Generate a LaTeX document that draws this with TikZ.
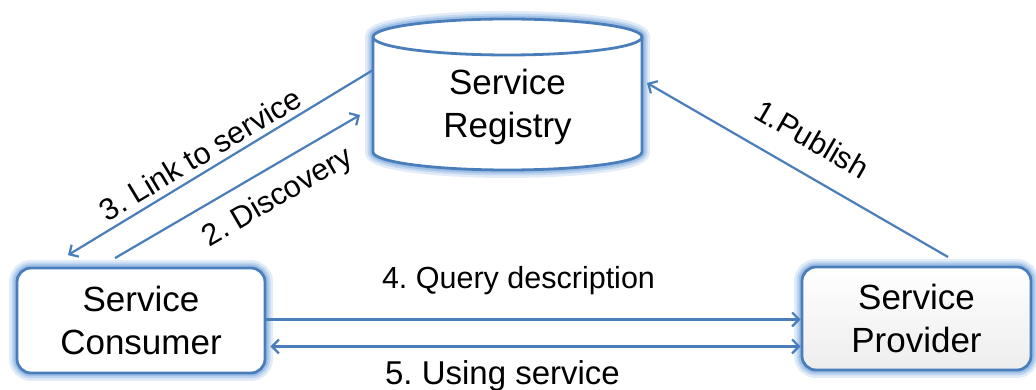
\documentclass[tikz,border=0pt]{standalone}
\usepackage{fontspec}
\setmainfont{Liberation Sans}
\frenchspacing
\usetikzlibrary{arrows.meta,calc}
\definecolor{mainblue}{HTML}{4A7EBB}
\definecolor{glowA}{HTML}{E2ECF8}
\definecolor{glowB}{HTML}{C3D8F0}
\definecolor{glowC}{HTML}{A0C0E6}
\newcommand\mynodefont{\fontsize{35}{43}\selectfont}
\newcommand\mylabelfont{\fontsize{30.5}{36}\selectfont}
\tikzset{
  glowing/.style={preaction={draw=glowA,line width=16pt},
                  preaction={draw=glowB,line width=11pt},
                  preaction={draw=glowC,line width=7pt}},
  boxnode/.style={glowing, draw=mainblue, line width=2.8pt, fill=white,
                  rounded corners=14pt, align=center, inner sep=0pt,
                  font=\mynodefont},
  conn/.style={draw=mainblue, line width=2.2pt,
               -{Straight Barb[length=7pt,width=14pt]}},
  lbl/.style={font=\mylabelfont, inner sep=0pt}
}
\begin{document}
\begin{tikzpicture}[x=1pt,y=1pt]
\useasboundingbox (0,0) rectangle (1036,390);
% cylinder (Service Registry)
\path[glowing, fill=white, draw=mainblue, line width=2.8pt]
  (373,353) -- (373,238)
  arc[start angle=180,end angle=360,x radius=134.5pt,y radius=18pt]
  -- (642,353)
  arc[start angle=0,end angle=180,x radius=134.5pt,y radius=18pt] -- cycle;
\draw[mainblue, line width=2.8pt] (373,353)
  arc[start angle=180,end angle=360,x radius=134.5pt,y radius=18pt];
\node[inner sep=0pt, outer sep=0pt, minimum width=269pt, align=center,
      font=\mynodefont] (reg) at (507.5,283) {Service\\Registry};
% consumer and provider
\node[boxnode, minimum width=248pt, minimum height=105pt] (con) at (141,69.5)
  {Service\\Consumer};
\node[boxnode, minimum width=229pt, minimum height=103pt,
      top color=white, bottom color=black!7] (prov) at (916.5,71.5)
  {Service\\Provider};
% connectors
\draw[conn] ([yshift=37pt]reg.west) -- ([xshift=-73pt,yshift=11.5pt]con.north);
\draw[conn] ([xshift=-26pt,yshift=8.5pt]con.north) -- ([xshift=-13pt,yshift=-8pt]reg.west);
\draw[conn] ([xshift=31.5pt,yshift=8.6pt]prov.north) -- ([xshift=5pt,yshift=24pt]reg.east);
\draw[conn] ([yshift=1pt]con.east) -- ([yshift=-1pt]prov.west);
\draw[conn, {Straight Barb[length=7pt,width=14pt]}-{Straight Barb[length=7pt,width=14pt]}]
  ([xshift=4pt,yshift=-26pt]con.east) -- ([yshift=-28pt]prov.west);
% labels
\node[lbl, rotate=31] (l3) at (200,236) {3. Link to service};
\node[lbl, rotate=30.3] (l2) at (278,192) {2. Discovery};
\node[lbl, rotate=-30] (l1) at (812,251) {1.Publish};
\node[lbl, anchor=base] (l4) at (518.5,101) {4. Query description};
\node[lbl, anchor=base, font=\fontsize{33}{38}\selectfont] (l5) at (502.5,5) {5. Using service};
\end{tikzpicture}
\end{document}
